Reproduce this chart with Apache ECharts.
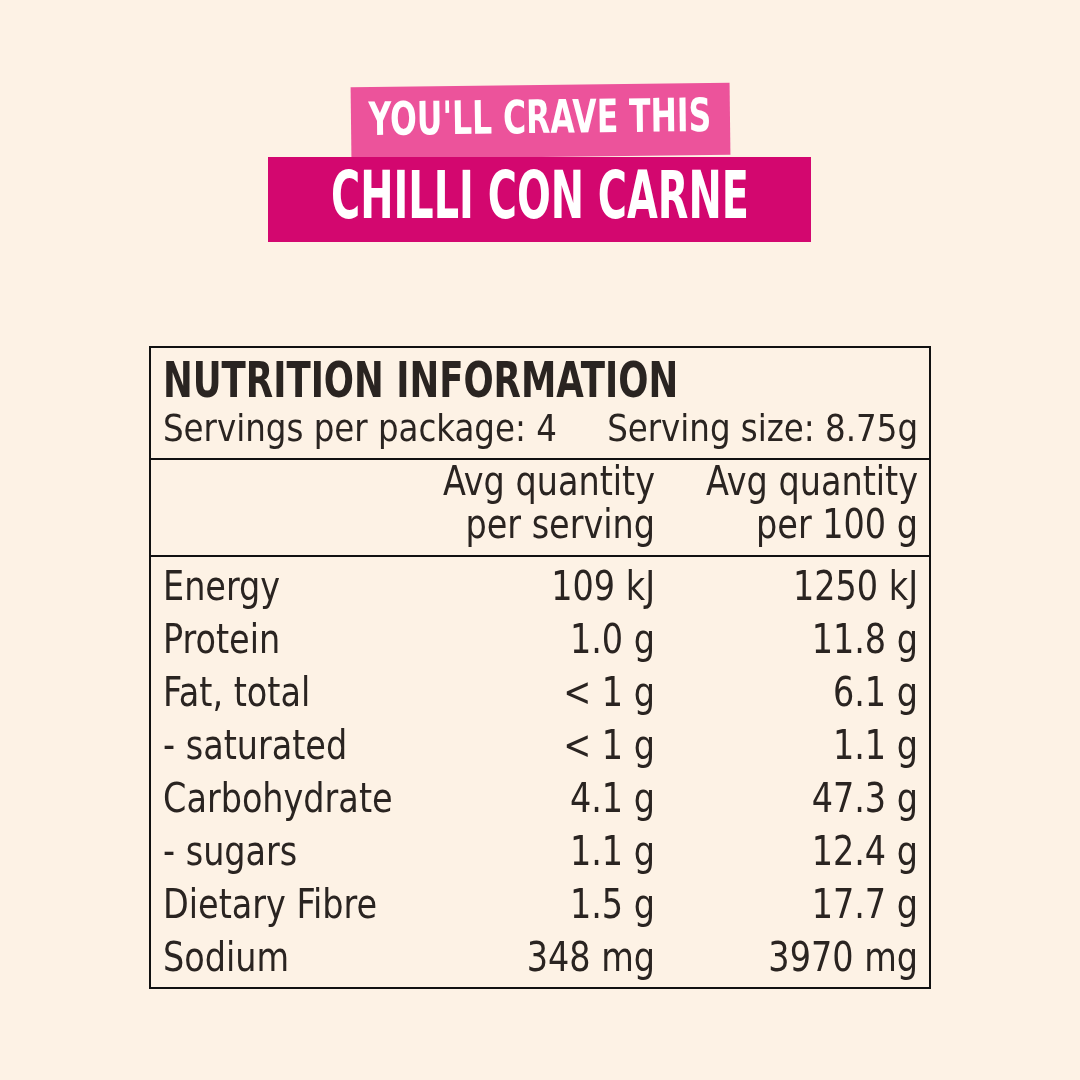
<!DOCTYPE html>
<html><head><meta charset="utf-8">
<script src="https://cdn.jsdelivr.net/npm/echarts@6/dist/echarts.min.js"></script>
<style>html,body{margin:0;padding:0;background:#fdf2e5}#c{width:1080px;height:1080px}</style>
</head><body><div id="c"></div>
<script>
const nutrients = ["Energy","Protein","Fat, total","- saturated","Carbohydrate","- sugars","Dietary Fibre","Sodium"];
const perServing = ["109 kJ","1.0 g","< 1 g","< 1 g","4.1 g","1.1 g","1.5 g","348 mg"];
const per100g = ["1250 kJ","11.8 g","6.1 g","1.1 g","47.3 g","12.4 g","17.7 g","3970 mg"];
const headers = [["Avg quantity","per serving"],["Avg quantity","per 100 g"]];
const tagline = "YOU'LL CRAVE THIS";
const title = "CHILLI CON CARNE";

const ink = "#2a2421";
const bodyFont = "'DejaVu Sans Condensed', sans-serif";
const g = [];
function txt(t,x,y,font,sx,align,fill,rot){
  return {type:'text',x:x,y:y,scaleX:sx,rotation:rot||0,style:{text:t,x:0,y:0,align:align||'left',verticalAlign:'middle',fill:fill||ink,font:font}};
}
g.push({type:'rect',rotation:0.012,originX:540,originY:120,shape:{x:351,y:85,width:379,height:72},style:{fill:'#ec539b'}});
g.push(txt(tagline,540,121,"bold 46px "+bodyFont,0.76,'center','#fff',0.012));
g.push({type:'rect',shape:{x:268,y:157,width:543,height:85},style:{fill:'#d3076f'}});
g.push(txt(title,540,201,"bold 66px "+bodyFont,0.67,'center','#fff'));
// table
g.push({type:'rect',shape:{x:150,y:347,width:780,height:641},style:{fill:'none',stroke:'#111',lineWidth:2}});
g.push(txt("NUTRITION INFORMATION",163,384,"bold 50px "+bodyFont,0.79));
g.push(txt("Servings per package: 4",163,431,"38px "+bodyFont,0.95));
g.push(txt("Serving size: 8.75g",918,431,"38px "+bodyFont,0.95,'right'));
g.push({type:'line',shape:{x1:150,y1:459,x2:930,y2:459},style:{stroke:'#111',lineWidth:2}});
const colX=[655,918];
const F="40px "+bodyFont, S=0.93;
headers.forEach((h,i)=>h.forEach((t,j)=>g.push(txt(t,colX[i],485+j*43,F,S,'right'))));
g.push({type:'line',shape:{x1:150,y1:556,x2:930,y2:556},style:{stroke:'#111',lineWidth:2}});
nutrients.forEach((n,i)=>{
  const y=590+i*53;
  g.push(txt(n,163,y,F,S));
  g.push(txt(perServing[i],colX[0],y,F,S,'right'));
  g.push(txt(per100g[i],colX[1],y,F,S,'right'));
});
const chart=echarts.init(document.getElementById('c'));
chart.setOption({backgroundColor:'#fdf2e5',animation:false,graphic:{elements:g}});
</script></body></html>
